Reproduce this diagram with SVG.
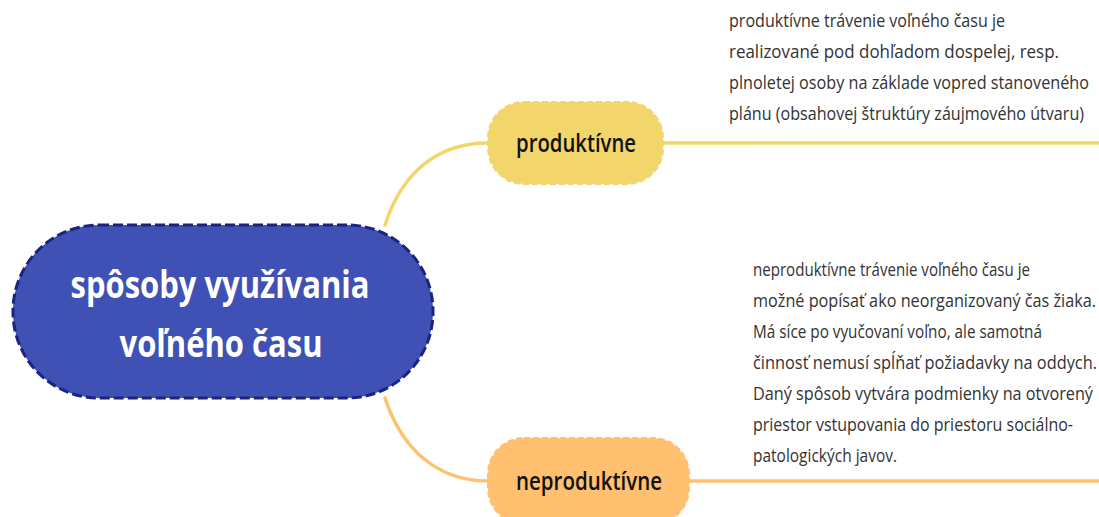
<svg xmlns="http://www.w3.org/2000/svg" width="1099" height="517" viewBox="0 0 1099 517">
<style>
.desc{font-family:"Open Sans","Noto Sans",sans-serif;font-size:18px;fill:#333333}
.lbl{font-family:"Open Sans","Noto Sans",sans-serif;font-size:25px;font-weight:600;fill:#111111;text-anchor:middle}
.main{font-family:"Open Sans","Noto Sans",sans-serif;font-size:37px;font-weight:700;fill:#ffffff;text-anchor:middle}
</style>
<rect width="1099" height="517" fill="#ffffff"/>
<g id="connectors" fill="none" stroke-width="3.5" stroke-linecap="round">
  <path d="M385,225 C402,172 438,143 488,143" stroke="#f2d66c"/>
  <line x1="663" y1="143" x2="1099" y2="143" stroke="#f2d66c"/>
  <path d="M385,398 C402,450 438,481 488,481" stroke="#ffc070"/>
  <line x1="689" y1="481" x2="1099" y2="481" stroke="#ffc070"/>
</g>
<g id="central">
  <rect x="13" y="225" width="420" height="173" rx="86" fill="#3f51b5" stroke="#1a237e" stroke-width="3" stroke-dasharray="10 4"/>
  <text class="main" x="220" y="298" textLength="299" lengthAdjust="spacingAndGlyphs">spôsoby využívania</text>
  <text class="main" x="221" y="357" textLength="203" lengthAdjust="spacingAndGlyphs">voľného času</text>
</g>
<g id="produktivne">
  <rect x="488" y="102" width="175" height="82" rx="36" fill="#f2d66c" stroke="#f2d66c" stroke-width="2" stroke-dasharray="6 3"/>
  <text class="lbl" x="576" y="152" textLength="120" lengthAdjust="spacingAndGlyphs">produktívne</text>
</g>
<g id="neproduktivne">
  <rect x="488" y="438" width="201" height="86" rx="36" fill="#ffc070" stroke="#ffc070" stroke-width="2" stroke-dasharray="6 3"/>
  <text class="lbl" x="589" y="490" textLength="146" lengthAdjust="spacingAndGlyphs">neproduktívne</text>
</g>
<g id="desc-produktivne" class="desc">
  <text x="729" y="27" textLength="276" lengthAdjust="spacingAndGlyphs">produktívne trávenie voľného času je</text>
  <text x="729" y="58" textLength="330" lengthAdjust="spacingAndGlyphs">realizované pod dohľadom dospelej, resp.</text>
  <text x="729" y="89" textLength="360" lengthAdjust="spacingAndGlyphs">plnoletej osoby na základe vopred stanoveného</text>
  <text x="729" y="120" textLength="355" lengthAdjust="spacingAndGlyphs">plánu (obsahovej štruktúry záujmového útvaru)</text>
</g>
<g id="desc-neproduktivne" class="desc">
  <text x="753" y="276" textLength="277" lengthAdjust="spacingAndGlyphs">neproduktívne trávenie voľného času je</text>
  <text x="753" y="307" textLength="343" lengthAdjust="spacingAndGlyphs">možné popísať ako neorganizovaný čas žiaka.</text>
  <text x="753" y="338" textLength="289" lengthAdjust="spacingAndGlyphs">Má síce po vyučovaní voľno, ale samotná</text>
  <text x="753" y="369" textLength="344" lengthAdjust="spacingAndGlyphs">činnosť nemusí spĺňať požiadavky na oddych.</text>
  <text x="753" y="400" textLength="340" lengthAdjust="spacingAndGlyphs">Daný spôsob vytvára podmienky na otvorený</text>
  <text x="753" y="431" textLength="320" lengthAdjust="spacingAndGlyphs">priestor vstupovania do priestoru sociálno-</text>
  <text x="753" y="462" textLength="144" lengthAdjust="spacingAndGlyphs">patologických javov.</text>
</g>
</svg>
